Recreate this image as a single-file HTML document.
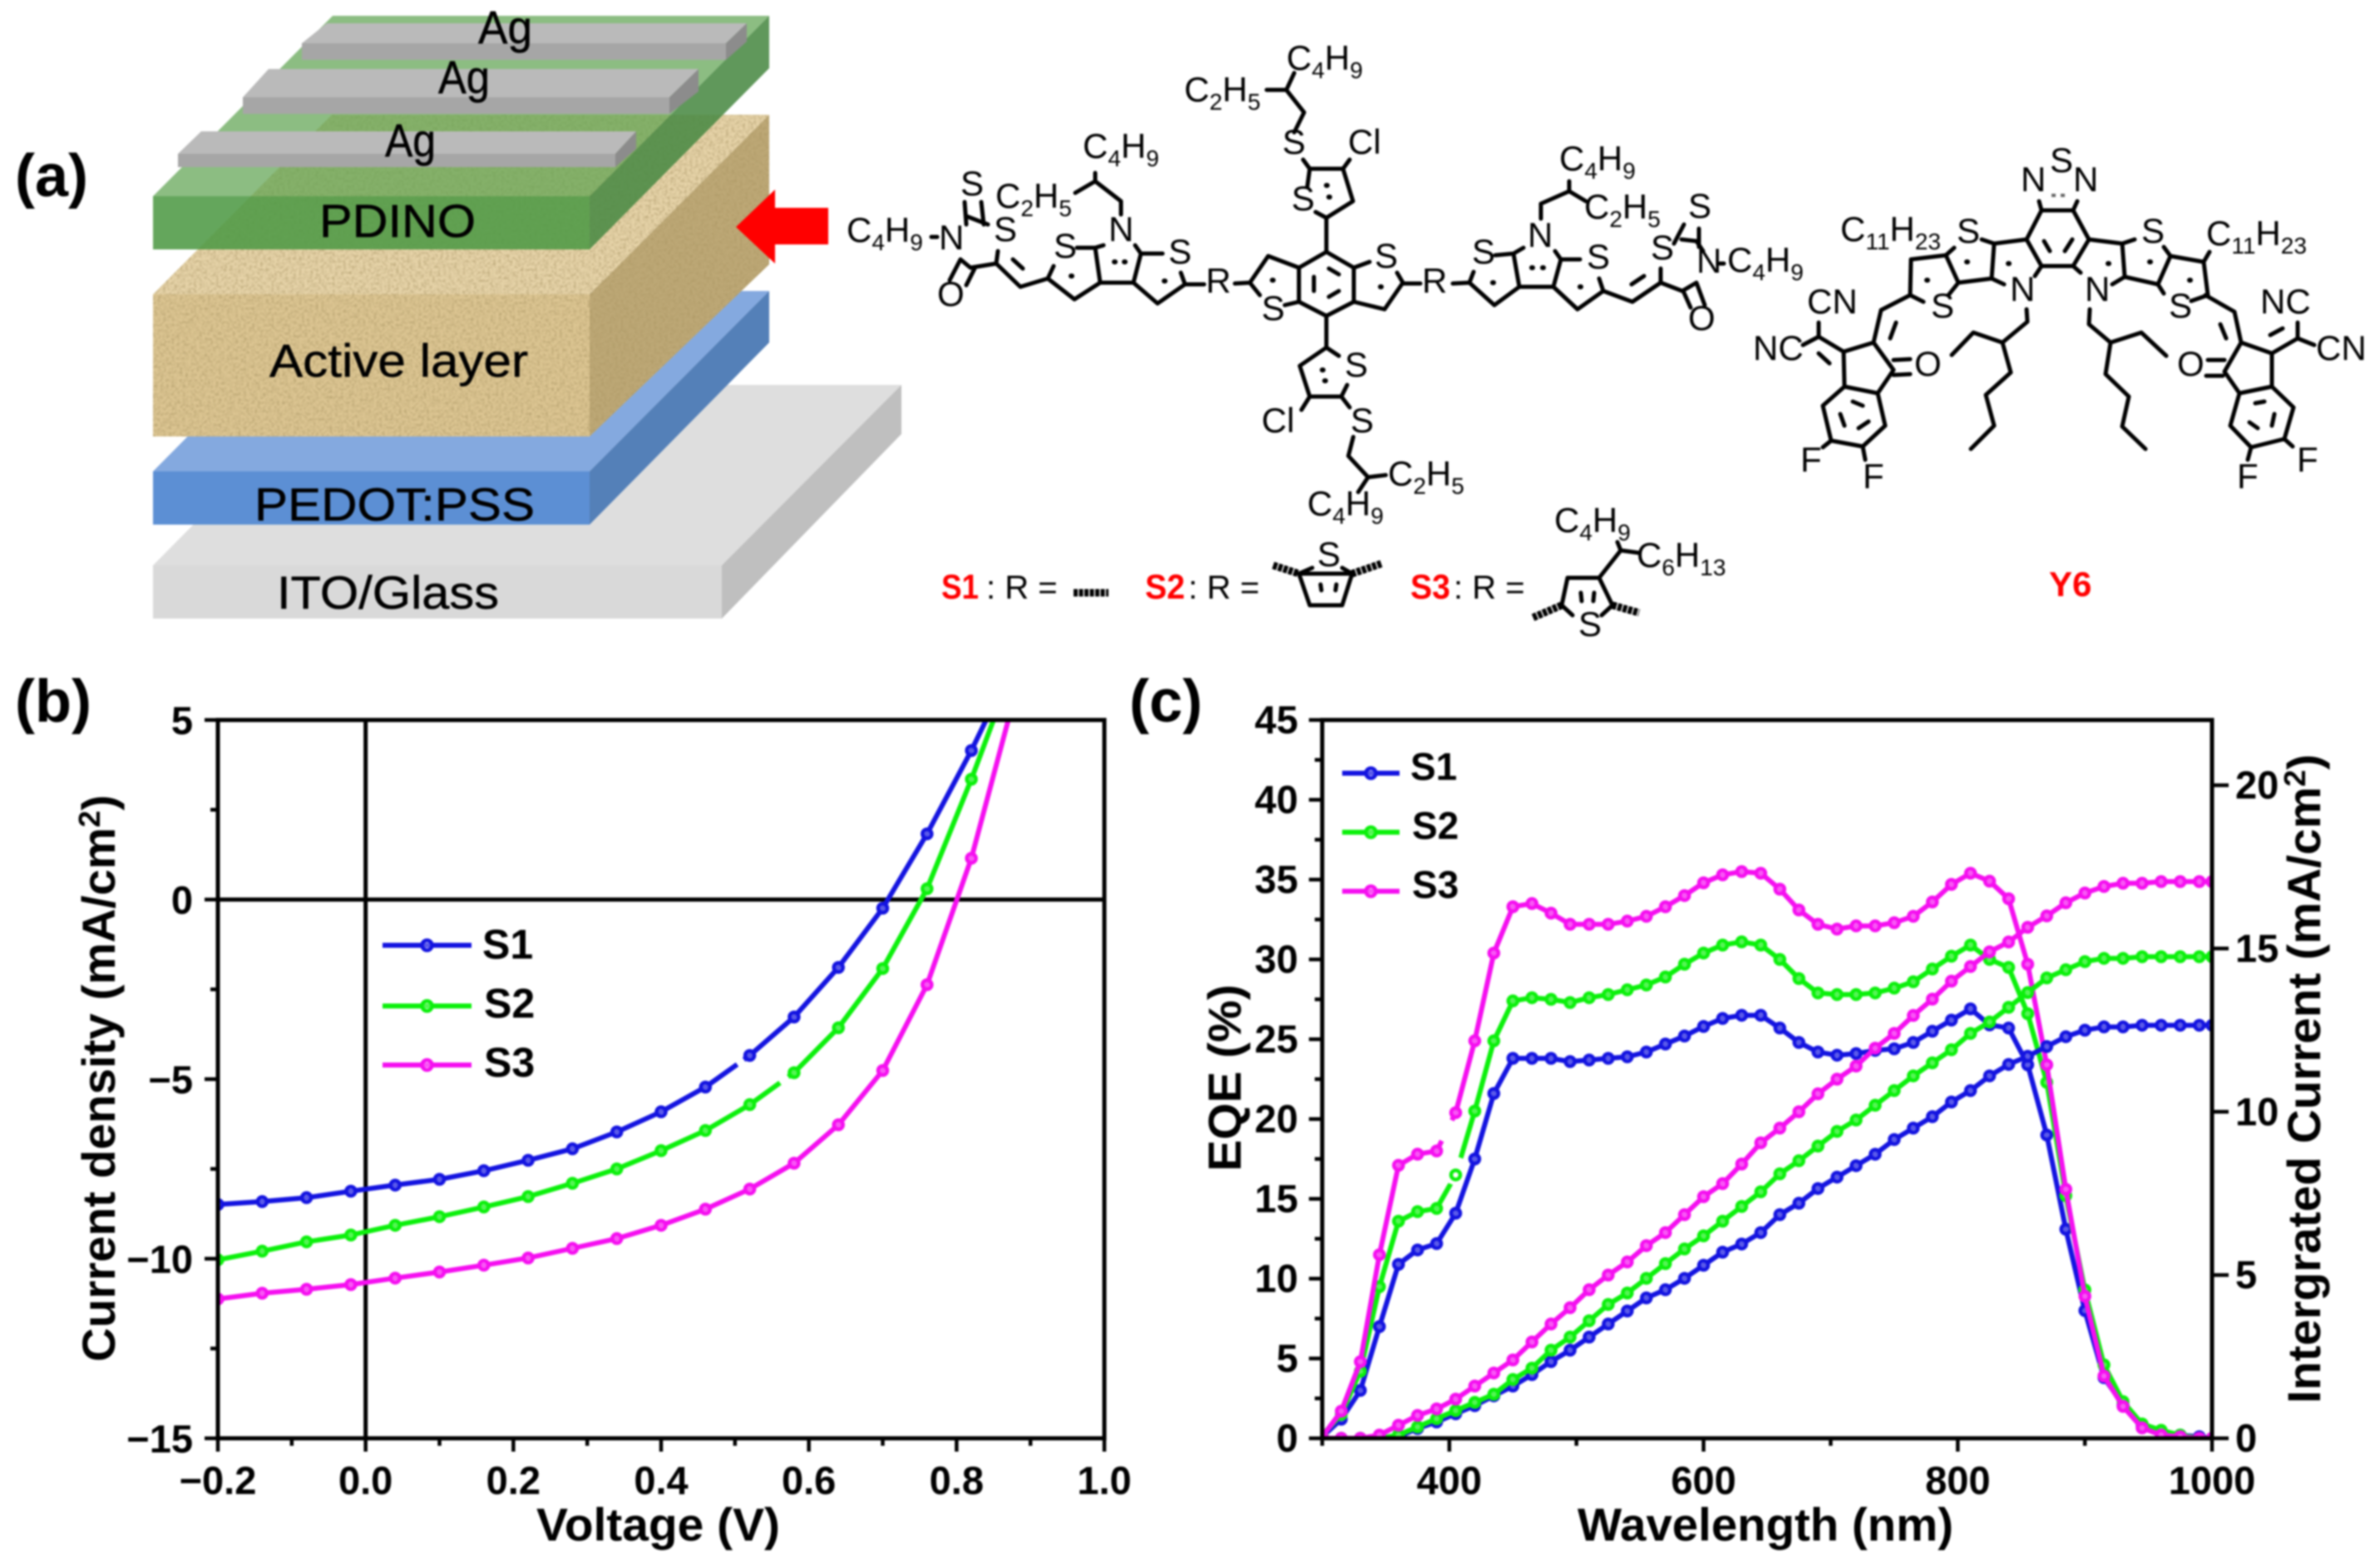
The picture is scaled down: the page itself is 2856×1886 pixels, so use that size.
<!DOCTYPE html>
<html lang="en">
<head>
<meta charset="utf-8">
<title>Device structure, molecules, J-V and EQE curves</title>
<style>
html,body{margin:0;padding:0;background:#fff}
svg{display:block;filter:blur(1.1px)}
text{font-family:"Liberation Sans",sans-serif;fill:#000}
.panel{font-size:72px;font-weight:bold}
.layer{font-size:56px;stroke:#000;stroke-width:.5px}
.at{font-size:42px}
.sb{font-size:28px;baseline-shift:-10px}
.tick{font-size:47px;font-weight:bold}
.title{font-size:56px;font-weight:bold}
.leg{font-size:50px;font-weight:bold}
.red{fill:#f00;font-size:42px;font-weight:bold}
.rg{font-size:40px}
.bond{fill:none;stroke:#000;stroke-width:5;stroke-linejoin:round;stroke-linecap:round}
.fine{fill:none;stroke:#000;stroke-width:5;stroke-linejoin:round;stroke-linecap:round;vector-effect:non-scaling-stroke}
.dot{fill:none;stroke:#000;stroke-width:6;stroke-linecap:round}
.wig{fill:none;stroke:#000;stroke-width:9;stroke-dasharray:5 1.5}
</style>
</head>
<body>
<svg xmlns="http://www.w3.org/2000/svg" width="2856" height="1886" viewBox="0 0 2856 1886">
<defs>
<filter id="sand" x="0" y="0" width="100%" height="100%">
<feTurbulence type="fractalNoise" baseFrequency="0.3" numOctaves="3" seed="4" result="n"/>
<feColorMatrix in="n" type="matrix" values="0 0 0 0 0.4  0 0 0 0 0.3  0 0 0 0 0.12  1.5 0 0 0 -0.58" result="d"/>
<feComposite in="d" in2="SourceGraphic" operator="atop"/>
</filter>
<clipPath id="clipB"><rect x="262" y="866" width="1066" height="864"/></clipPath>
<clipPath id="clipC"><rect x="1590" y="866" width="1070" height="864"/></clipPath>
</defs>
<rect width="2856" height="1886" fill="#fff"/>

<g>
<g>
<polygon points="184,680 399,463 1084,463 868,680" fill="#dedede"/>
<polygon points="868,680 1084,463 1084,522 868,744" fill="#bfbfbf"/>
<rect x="184" y="680" width="684" height="64" fill="#d9d9d9"/>
</g>
<g>
<polygon points="184,567 399,350 925,350 709,567" fill="#84a9df"/>
<polygon points="709,567 925,350 925,412 709,631" fill="#5480b8"/>
<rect x="184" y="567" width="525" height="64" fill="#5c8fd4"/>
</g>
<g>
<polygon points="184,354 399,138 925,138 709,354" fill="#e6d3a8" filter="url(#sand)"/>
<polygon points="709,354 925,138 925,318 709,525" fill="#bda876" filter="url(#sand)"/>
<rect x="184" y="354" width="525" height="171" fill="#dcc592" filter="url(#sand)"/>
</g>
<g>
<polygon points="184,236 400,19 925,19 709,236" fill="#5fa352" fill-opacity="0.72"/>
<polygon points="709,236 925,19 925,82 709,300" fill="#4a8a44" fill-opacity="0.88"/>
<rect x="184" y="236" width="525" height="64" fill="#4f9a45" fill-opacity="0.88"/>
</g>
<g>
<polygon points="393,28 898,28 873,52 363,52" fill="#bababa"/>
<rect x="363" y="52" width="510" height="20" fill="#a6a6a6"/>
<polygon points="873,52 898,28 898,50 873,72" fill="#8c8c8c"/>
</g>
<g>
<polygon points="323,83 840,83 805,117 292,117" fill="#bababa"/>
<rect x="292" y="117" width="513" height="20" fill="#a6a6a6"/>
<polygon points="805,117 840,83 840,110 805,137" fill="#8c8c8c"/>
</g>
<g>
<polygon points="242,158 765,158 740,185 214,185" fill="#bababa"/>
<rect x="214" y="185" width="526" height="16" fill="#a6a6a6"/>
<polygon points="740,185 765,158 765,179 740,201" fill="#8c8c8c"/>
</g>
<polygon points="885,273 932,228 932,250 996,250 996,294 932,294 932,317" fill="#f00"/>
<text class="layer" x="575" y="52" textLength="65" lengthAdjust="spacingAndGlyphs">Ag</text>
<text class="layer" x="527" y="112" textLength="62" lengthAdjust="spacingAndGlyphs">Ag</text>
<text class="layer" x="463" y="188" textLength="61" lengthAdjust="spacingAndGlyphs">Ag</text>
<text class="layer" x="384" y="285" textLength="188" lengthAdjust="spacingAndGlyphs">PDINO</text>
<text class="layer" x="324" y="453" textLength="311" lengthAdjust="spacingAndGlyphs">Active layer</text>
<text class="layer" x="306" y="626" textLength="337" lengthAdjust="spacingAndGlyphs">PEDOT:PSS</text>
<text class="layer" x="333" y="732" textLength="267" lengthAdjust="spacingAndGlyphs">ITO/Glass</text>
</g>
<text class="panel" x="18" y="236">(a)</text>
<text class="panel" x="18" y="868">(b)</text>
<text class="panel" x="1358" y="868">(c)</text>

<g>
<path class="bond" d="
M1448 342 L1425 342 L1420 328 M1425 342 L1392 365 L1363 340 L1372 305 L1398 305 M1372 305 L1365 295
M1363 340 L1323 340 L1317 298 L1327 295 M1317 298 L1295 298
M1323 340 L1292 360 L1260 335 L1267 320 M1260 335 L1227 345 L1198 317 L1200 302 M1218 312 L1230 323
M1198 317 L1167 322 L1155 312 L1142 337 M1172 323 L1162 343
M1160 243 L1162 270 M1180 243 L1183 270 M1162 260 L1188 270 M1120 285 L1127 285
M1348 258 L1348 242 L1317 218 L1293 232 M1317 218 L1317 208"/>
<path class="bond" d="
M1595 303 L1628 322 L1628 363 L1595 380 L1562 363 L1562 322 Z
M1598 323 L1610 330 M1580 333 L1580 350 M1598 357 L1610 350
M1595 303 L1595 262 L1627 242 L1615 203 L1575 203 L1572 225 M1582 255 L1595 262 M1575 203 L1567 192 M1615 203 L1623 192
M1595 380 L1595 418 L1610 428 M1595 418 L1563 440 L1575 477 L1613 477 L1620 463 M1575 477 L1565 493 M1613 477 L1623 490
M1562 322 L1525 308 L1503 340 L1515 355 M1545 367 L1562 363 M1485 341 L1503 340
M1628 322 L1647 315 M1680 328 L1687 340 L1665 372 L1628 363 M1687 341 L1708 341"/>
<path class="bond" d="
M1747 341 L1767 340 L1772 327 M1767 340 L1797 367 L1827 345 L1868 345 M1827 345 L1820 305 L1798 307 M1820 305 L1832 298
M1868 345 L1877 312 L1870 302 M1877 312 L1900 312 M1868 345 L1897 372 L1928 350 L1923 335 M1928 350 L1963 363 L1997 340 L1997 323 M1962 342 L1977 332
M1997 340 L2023 350 L2040 340 M2025 352 L2033 370 M2040 340 L2050 367
M2025 270 L2013 293 M2043 275 L2043 297 M2022 288 L2040 290 L2048 302 M2068 317 L2073 317
M1853 263 L1853 245 L1887 230 L1887 218 M1887 230 L1907 242"/>
<path class="bond" d="
M2437 372 L2438 387 L2408 412 L2373 400 L2347 427 M2408 412 L2418 448 L2388 475 L2398 512 L2370 540
M2253 412 L2217 423 L2218 465 L2258 473 L2277 445 Z M2277 433 L2297 432 M2277 451 L2297 450
M2218 465 L2192 488 L2202 530 L2240 537 L2267 512 L2258 473
M2228 483 L2240 488 M2213 498 L2218 512 M2235 515 L2247 507 M2202 530 L2192 538 M2240 537 L2243 553
M2253 412 L2262 373 L2297 355 L2298 312 L2340 307 L2355 340 L2343 355 M2280 388 L2273 407 M2297 355 L2313 363
M2340 307 L2350 298 M2383 288 L2398 293 L2395 335 L2355 340 M2398 293 L2437 288 M2395 335 L2410 342 M2447 332 L2455 320
M2217 423 L2187 405 L2168 415 M2187 405 L2187 388 M2187 425 L2200 437"/>
<path class="bond" d="
M2455 253 L2493 253 L2512 288 L2493 320 L2455 320 L2437 288 Z M2455 253 L2452 242 M2493 253 L2498 242
M2458 290 L2465 302 M2492 288 L2483 302"/>
<path class="bond" d="
M2512 288 L2552 293 L2567 288 M2552 293 L2555 333 L2540 342 M2493 320 L2502 328
M2555 333 L2595 342 L2610 308 L2602 297 M2595 342 L2602 353 M2610 308 L2650 315 L2657 303 M2650 315 L2655 355 L2635 362
M2652 355 L2687 375 L2695 412 M2670 390 L2677 407
M2695 412 L2732 425 L2732 465 L2693 473 L2675 447 Z M2675 433 L2655 433 M2673 452 L2653 452
M2732 465 L2758 490 L2747 528 L2707 538 L2682 512 L2693 473
M2712 485 L2723 483 M2735 498 L2732 512 M2705 508 L2715 515 M2747 528 L2757 537 M2707 538 L2703 553
M2732 425 L2763 407 L2783 415 M2763 407 L2763 388 M2730 403 L2745 395
M2513 372 L2512 390 L2538 412 L2575 400 L2605 428 M2538 412 L2532 450 L2560 477 L2552 513 L2580 540"/>
<path class="dot" d="
M1340 315h1 M1352 315h1 M1400 338h1 M1288 332h1 M1595 223h1 M1598 237h1 M1590 445h1 M1593 458h1 M1530 337h1 M1660 345h1
M1795 340h1 M1842 322h1 M1855 322h1 M1900 345h1 M2415 317h1 M2535 317h1 M2365 315h1 M2585 315h1 M2317 337h1 M2633 337h1"/>
<path d="M2467 235 L2483 235" fill="none" stroke="#666" stroke-width="4" stroke-dasharray="5 6"/>
<g transform="translate(1000 0) scale(1.1837 0.5102)">
<path class="fine" d="M470 312 L480 265 L462 212 L470 172 M462 212 L442 212"/>
<path class="fine" d="M530 1030 L525 1075 L545 1125 L563 1120 M545 1125 L535 1160"/>
</g>
<path class="bond" d="
M1562 690 L1626 690 L1614 728 L1575 728 Z M1562 690 L1578 683 M1626 690 L1614 683 M1588 703 L1589 710 M1607 703 L1606 710
M1885 695 L1923 695 L1939 728 L1926 740 M1885 695 L1878 728 L1891 740 M1923 695 L1949 662 L1971 665 M1949 662 L1945 652 M1901 713 L1902 723 M1917 713 L1916 723"/>
<path class="wig" d="M1291 713 L1333 713 M1531 680 L1562 690 M1661 678 L1626 690 M1878 728 L1843 743 M1939 728 L1971 737"/>
</g>
<g>
<text class="at" x="1547" y="84">C<tspan class="sb">4</tspan>H<tspan class="sb">9</tspan></text>
<text class="at" x="1424" y="122">C<tspan class="sb">2</tspan>H<tspan class="sb">5</tspan></text>
<text class="at" x="1621" y="185">Cl</text>
<text class="at" x="1542" y="185">S</text>
<text class="at" x="1553" y="253">S</text>
<text class="at" x="1302" y="190">C<tspan class="sb">4</tspan>H<tspan class="sb">9</tspan></text>
<text class="at" x="1197" y="250">C<tspan class="sb">2</tspan>H<tspan class="sb">5</tspan></text>
<text class="at" x="1155" y="235">S</text>
<text class="at" x="1195" y="290">S</text>
<text class="at" x="1129" y="300">N</text>
<text class="at" x="1018" y="291">C<tspan class="sb">4</tspan>H<tspan class="sb">9</tspan></text>
<text class="at" x="1127" y="368">O</text>
<text class="at" x="1267" y="310">S</text>
<text class="at" x="1333" y="290">N</text>
<text class="at" x="1405" y="317">S</text>
<text class="at" x="1450" y="352">R</text>
<text class="at" x="1517" y="385">S</text>
<text class="at" x="1653" y="322">S</text>
<text class="at" x="1710" y="352">R</text>
<text class="at" x="1770" y="317">S</text>
<text class="at" x="1837" y="297">N</text>
<text class="at" x="1908" y="323">S</text>
<text class="at" x="1875" y="205">C<tspan class="sb">4</tspan>H<tspan class="sb">9</tspan></text>
<text class="at" x="1905" y="263">C<tspan class="sb">2</tspan>H<tspan class="sb">5</tspan></text>
<text class="at" x="1985" y="312">S</text>
<text class="at" x="2030" y="262">S</text>
<text class="at" x="2040" y="328">N</text>
<text class="at" x="2077" y="327">C<tspan class="sb">4</tspan>H<tspan class="sb">9</tspan></text>
<text class="at" x="2030" y="397">O</text>
<text class="at" x="1617" y="453">S</text>
<text class="at" x="1517" y="520">Cl</text>
<text class="at" x="1624" y="520">S</text>
<text class="at" x="1669" y="584">C<tspan class="sb">2</tspan>H<tspan class="sb">5</tspan></text>
<text class="at" x="1572" y="620">C<tspan class="sb">4</tspan>H<tspan class="sb">9</tspan></text>
<text class="at" x="2465" y="207">S</text>
<text class="at" x="2430" y="230">N</text>
<text class="at" x="2493" y="230">N</text>
<text class="at" x="2213" y="290">C<tspan class="sb">11</tspan>H<tspan class="sb">23</tspan></text>
<text class="at" x="2653" y="295">C<tspan class="sb">11</tspan>H<tspan class="sb">23</tspan></text>
<text class="at" x="2353" y="292">S</text>
<text class="at" x="2575" y="292">S</text>
<text class="at" x="2417" y="362">N</text>
<text class="at" x="2507" y="362">N</text>
<text class="at" x="2322" y="382">S</text>
<text class="at" x="2608" y="382">S</text>
<text class="at" x="2173" y="377">CN</text>
<text class="at" x="2108" y="433">NC</text>
<text class="at" x="2302" y="452">O</text>
<text class="at" x="2165" y="567">F</text>
<text class="at" x="2240" y="587">F</text>
<text class="at" x="2718" y="377">NC</text>
<text class="at" x="2785" y="433">CN</text>
<text class="at" x="2618" y="452">O</text>
<text class="at" x="2762" y="567">F</text>
<text class="at" x="2690" y="587">F</text>
<text class="red" x="1132" y="720" textLength="45" lengthAdjust="spacingAndGlyphs">S1</text>
<text class="rg" x="1186" y="720">: R =</text>
<text class="red" x="1377" y="720" textLength="48" lengthAdjust="spacingAndGlyphs">S2</text>
<text class="rg" x="1429" y="720">: R =</text>
<text class="red" x="1696" y="720" textLength="48" lengthAdjust="spacingAndGlyphs">S3</text>
<text class="rg" x="1748" y="720">: R =</text>
<text class="red" x="2464" y="717">Y6</text>
<text class="at" x="1584" y="681">S</text>
<text class="at" x="1898" y="765">S</text>
<text class="at" x="1869" y="640">C<tspan class="sb">4</tspan>H<tspan class="sb">9</tspan></text>
<text class="at" x="1968" y="682">C<tspan class="sb">6</tspan>H<tspan class="sb">13</tspan></text>
</g>

<g id="chartB"></g>
<g id="chartC"></g>

<text class="title" x="645" y="1853" textLength="293" lengthAdjust="spacingAndGlyphs">Voltage (V)</text>
<text class="title" transform="translate(138 1638) rotate(-90)" textLength="682" lengthAdjust="spacingAndGlyphs">Current density (mA/cm<tspan font-size="36" baseline-shift="18">2</tspan>)</text>
<text class="title" x="1897" y="1853" textLength="452" lengthAdjust="spacingAndGlyphs">Wavelength (nm)</text>
<text class="title" transform="translate(1492 1409) rotate(-90)" textLength="225" lengthAdjust="spacingAndGlyphs">EQE (%)</text>
<text class="title" transform="translate(2790 1688) rotate(-90)" textLength="781" lengthAdjust="spacingAndGlyphs">Intergrated Current (mA/cm<tspan font-size="36" baseline-shift="18">2</tspan>)</text>
</svg>

<script>
const voltages=[-0.2,-0.14,-0.08,-0.02,0.04,0.10,0.16,0.22,0.28,0.34,0.40,0.46,0.52,0.58,0.64,0.70,0.76,0.82,0.88];
const jvS1=[-8.49,-8.41,-8.30,-8.12,-7.95,-7.79,-7.55,-7.26,-6.94,-6.47,-5.91,-5.22,-4.34,-3.27,-1.89,-0.24,1.83,4.15,6.7];
const jvS2=[-10.03,-9.79,-9.53,-9.34,-9.07,-8.83,-8.56,-8.27,-7.90,-7.50,-6.99,-6.43,-5.71,-4.82,-3.57,-1.92,0.30,3.35,6.65];
const jvS3=[-11.12,-10.96,-10.85,-10.72,-10.54,-10.37,-10.18,-9.98,-9.71,-9.44,-9.07,-8.62,-8.06,-7.34,-6.27,-4.76,-2.37,1.15,5.77];
const voltageTicks=[-0.2,0,0.2,0.4,0.6,0.8,1.0];
const voltageTickLabels=["\u22120.2","0.0","0.2","0.4","0.6","0.8","1.0"];
const voltageMinor=[-0.1,0.1,0.3,0.5,0.7,0.9];
const currentTicks=[5,0,-5,-10,-15];
const currentTickLabels=["5","0","\u22125","\u221210","\u221215"];
const currentMinor=[2.5,-2.5,-7.5,-12.5];

const wavelengths=[300,315,330,345,360,375,390,405,420,435,450,465,480,495,510,525,540,555,570,585,600,615,630,645,660,675,690,705,720,735,750,765,780,795,810,825,840,855,870,885,900,915,930,945,960,975,990,1000];
const eqeS1=[0.1,1.2,3.0,7.0,10.9,11.8,12.2,14.1,17.5,21.6,23.8,23.8,23.8,23.6,23.7,23.8,23.9,24.2,24.7,25.2,25.8,26.3,26.5,26.5,25.7,24.8,24.2,24.0,24.1,24.3,24.4,24.8,25.5,26.2,26.9,25.9,25.7,23.4,19.0,13.1,8.0,3.8,2.1,0.8,0.4,0.2,0.1,0];
const eqeS2=[0.2,1.5,4.2,9.5,13.6,14.2,14.4,16.5,20.5,24.9,27.4,27.6,27.5,27.3,27.6,27.8,28.1,28.4,28.9,29.7,30.4,30.9,31.1,30.9,30.0,28.8,27.9,27.8,27.8,27.9,28.2,28.6,29.4,30.2,30.9,30.0,29.5,26.6,22.3,15.2,9.3,4.6,2.3,0.9,0.5,0.2,0,0];
const eqeS3=[0.1,1.7,4.8,11.5,17.1,17.8,18.0,20.4,24.9,30.4,33.3,33.5,32.9,32.2,32.2,32.2,32.4,32.7,33.3,34.0,34.8,35.3,35.5,35.4,34.4,33.1,32.2,31.9,32.1,32.1,32.3,32.7,33.6,34.7,35.4,34.9,33.8,29.7,23.4,15.6,8.9,3.9,2.0,0.65,0.2,0.1,0,0];
const intS1=[0,0,0,0,0.05,0.3,0.5,0.75,1.0,1.3,1.6,1.95,2.35,2.7,3.1,3.5,3.9,4.3,4.55,4.9,5.3,5.7,5.95,6.3,6.85,7.2,7.65,8.0,8.35,8.7,9.15,9.5,9.85,10.3,10.65,11.1,11.45,11.7,12.0,12.3,12.5,12.6,12.6,12.65,12.65,12.65,12.65,12.65];
const intS2=[0,0,0,0,0.1,0.35,0.6,0.85,1.1,1.35,1.8,2.15,2.7,3.1,3.6,4.1,4.45,4.9,5.35,5.8,6.2,6.65,7.1,7.55,8.1,8.5,8.95,9.4,9.75,10.2,10.65,11.1,11.5,11.9,12.4,12.75,13.2,13.65,14.1,14.35,14.6,14.7,14.7,14.75,14.75,14.75,14.75,14.75];
const intS3=[0,0,0,0.1,0.4,0.7,0.9,1.2,1.6,2.0,2.4,2.95,3.5,4.0,4.55,5.0,5.4,5.9,6.3,6.85,7.4,7.8,8.4,9.05,9.5,10.0,10.55,11.0,11.4,11.95,12.4,12.95,13.45,14.0,14.45,14.9,15.2,15.65,16.0,16.4,16.7,16.9,17.0,17.0,17.05,17.05,17.05,17.05];
const wavelengthTicks=[400,600,800,1000];
const wavelengthMinor=[300,500,700,900];
const eqeTicks=[0,5,10,15,20,25,30,35,40,45];
const eqeMinor=[2.5,7.5,12.5,17.5,22.5,27.5,32.5,37.5,42.5];
const intTicks=[0,5,10,15,20];
const seriesNames=["S1","S2","S3"];
const seriesColors=["#1414e0","#0cf00c","#f50ff0"];
const jvGaps=[[0.503,0.512],[0.561,0.572],null];
const eqeGaps=[null,[401,409],[394,402]];

const NS="http://www.w3.org/2000/svg";
function xB(v){return 262+(v+0.2)/1.2*1066;}
function yB(j){return 866+(5-j)/20*864;}
function xC(w){return 1590+(w-300)/700*1070;}
function yEqe(e){return 1730-e/45*864;}
function yInt(i){return 1730-i/22*864;}
function interp(xs,ys,x){
  for(let i=1;i<xs.length;i++){
    if(x<=xs[i]){return ys[i-1]+(ys[i]-ys[i-1])*(x-xs[i-1])/(xs[i]-xs[i-1]);}
  }
  return ys[ys.length-1];
}
function mark(parent,tag,attrs){
  const el=document.createElementNS(NS,tag);
  for(const k in attrs){el.setAttribute(k,attrs[k]);}
  parent.appendChild(el);
  return el;
}
function tickLine(parent,x1,y1,x2,y2){
  const el=mark(parent,"line",{x1:x1,y1:y1,x2:x2,y2:y2,stroke:"#000","stroke-width":4.5});
  
  
}
function tickText(parent,x,y,anchor,label){
  const el=mark(parent,"text",{x:x,y:y,"text-anchor":anchor,"class":"tick"});
  el.textContent=label;
  
  
}
function frame(parent,x,y,w,h){
  const el=mark(parent,"rect",{x:x,y:y,width:w,height:h,fill:"none",stroke:"#000","stroke-width":5});
  
  
}
function series(parent,name,xs,ys,color,fx,fy,clip,gap){
  const g=mark(parent,"g",{"clip-path":"url(#"+clip+")"});
  
  
  const pts=xs.map(function(x,i){return fx(x).toFixed(1)+","+fy(ys[i]).toFixed(1);}).join(" ");
  const line=mark(g,"polyline",{points:pts,fill:"none",stroke:color,"stroke-width":6,"stroke-linejoin":"round"});
  
  
  if(gap){
    const w=mark(g,"line",{x1:fx(gap[0]),y1:fy(interp(xs,ys,gap[0])),x2:fx(gap[1]),y2:fy(interp(xs,ys,gap[1])),stroke:"#fff","stroke-width":10});
    
    
  }
  xs.forEach(function(x,i){
    const c=mark(g,"circle",{cx:fx(x),cy:fy(ys[i]),r:5.5,fill:"#fff","fill-opacity":0.3,stroke:color,"stroke-width":4.5});
    
    
  });
}
function legendEntry(parent,x1,x2,y,tx,ty,fs,color,label){
  const g=mark(parent,"g",{});
  
  
  const l=mark(g,"line",{x1:x1,x2:x2,y1:y,y2:y,stroke:color,"stroke-width":6});
  
  
  const c=mark(g,"circle",{cx:(x1+x2)/2,cy:y,r:6,fill:"#fff","fill-opacity":0.3,stroke:color,"stroke-width":4.5});
  
  
  const t=mark(g,"text",{x:tx,y:ty,"class":"leg"});
  t.style.fontSize=fs+"px";
  t.textContent=label;
  
  
}

/* Panel b */
const B=document.getElementById("chartB");
const zeroV=mark(B,"line",{x1:xB(0),x2:xB(0),y1:yB(5),y2:yB(-15),stroke:"#000","stroke-width":5});


const zeroJ=mark(B,"line",{x1:xB(-0.2),x2:xB(1),y1:yB(0),y2:yB(0),stroke:"#000","stroke-width":5});


voltageTicks.forEach(function(v,i){
  tickLine(B,xB(v),1730,xB(v),1746);
  tickText(B,xB(v),1797,"middle",voltageTickLabels[i]);
});
voltageMinor.forEach(function(v){tickLine(B,xB(v),1730,xB(v),1739);});
currentTicks.forEach(function(j,i){
  tickLine(B,246,yB(j),262,yB(j));
  tickText(B,232,yB(j)+17,"end",currentTickLabels[i]);
});
currentMinor.forEach(function(j){tickLine(B,253,yB(j),262,yB(j));});
[jvS1,jvS2,jvS3].forEach(function(ys,i){
  series(B,"jv-"+seriesNames[i],voltages,ys,seriesColors[i],xB,yB,"clipB",jvGaps[i]);
});
frame(B,262,866,1066,864);
legendEntry(B,460,567,1137,580,1153,50,seriesColors[0],"S1");
legendEntry(B,460,567,1210,582,1224,50,seriesColors[1],"S2");
legendEntry(B,460,567,1281,582,1295,50,seriesColors[2],"S3");

/* Panel c */
const C=document.getElementById("chartC");
wavelengthTicks.forEach(function(w){
  tickLine(C,xC(w),1730,xC(w),1746);
  tickText(C,xC(w),1797,"middle",String(w));
});
wavelengthMinor.forEach(function(w){tickLine(C,xC(w),1730,xC(w),1739);});
eqeTicks.forEach(function(e){
  tickLine(C,1574,yEqe(e),1590,yEqe(e));
  tickText(C,1561,yEqe(e)+16,"end",String(e));
});
eqeMinor.forEach(function(e){tickLine(C,1581,yEqe(e),1590,yEqe(e));});
intTicks.forEach(function(v){
  tickLine(C,2660,yInt(v),2680,yInt(v));
  tickText(C,2688,yInt(v)+16,"start",String(v));
});
[eqeS1,eqeS2,eqeS3].forEach(function(ys,i){
  series(C,"eqe-"+seriesNames[i],wavelengths,ys,seriesColors[i],xC,yEqe,"clipC",eqeGaps[i]);
});
[intS1,intS2,intS3].forEach(function(ys,i){
  series(C,"integrated-"+seriesNames[i],wavelengths,ys,seriesColors[i],xC,yInt,"clipC",null);
});
frame(C,1590,866,1070,864);
legendEntry(C,1614,1683,930,1696,938,46,seriesColors[0],"S1");
legendEntry(C,1614,1683,1001,1698,1009,46,seriesColors[1],"S2");
legendEntry(C,1614,1683,1072,1698,1080,46,seriesColors[2],"S3");
</script>
</body>
</html>
